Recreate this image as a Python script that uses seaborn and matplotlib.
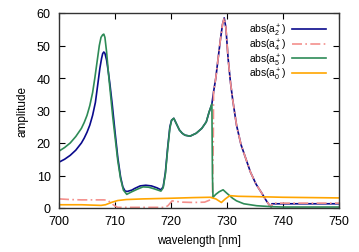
import matplotlib
matplotlib.use("Agg")
import matplotlib.pyplot as plt
import seaborn as sns
import pandas as pd

# abs(a2+)
x_a2 = [700, 701, 702, 703, 704, 704.5, 705, 705.5, 706, 706.5, 707, 707.3, 707.6, 707.8,
        708.0, 708.2, 708.5, 708.8, 709.1, 709.5, 710, 710.5, 711, 711.4, 711.8, 712.2,
        713, 713.5, 714.5, 715.5, 716.5, 717.5, 718.2, 718.6, 719.0, 719.4, 719.8, 720.1,
        720.5, 721, 721.5, 722, 722.5, 723.4, 724.5, 725.5, 726.3, 726.8, 727.3, 727.6,
        728, 728.4, 728.8, 729.2, 729.5, 729.8, 730.2, 730.6, 731, 731.7, 732.5, 733.5,
        734.2, 735.2, 736.2, 737, 737.6, 737.9, 738.0, 744, 750]
y_a2 = [14.1, 15.0, 16.2, 17.8, 20, 21.5, 23.3, 25.5, 28.5, 32.5, 39, 43, 46, 47.5,
        48, 47.6, 45.5, 42, 38, 32, 23.5, 15.5, 9.5, 6.5, 5.2, 5.1,
        5.5, 6, 6.8, 7, 6.8, 6.2, 5.6, 6.5, 11, 18.5, 25, 27,
        27.6, 25.8, 24, 23, 22.4, 22.1, 23, 24.5, 26.5, 29.5, 32, 35.7,
        40, 45.8, 51.5, 56.5, 58.5, 55.5, 46, 39, 33.5, 25.5, 19.5, 14.5,
        11, 7.3, 4.6, 2.3, 0.8, 0.3, 1.3, 1.3, 1.3]

# abs(a4+)
x_a4 = [700, 702, 704, 706, 708, 708.7, 709.3, 710, 710.5, 712, 715, 719, 719.5, 720.2,
        721, 722, 724, 726, 727, 727.4, 727.55,
        727.6, 728, 728.4, 728.8, 729.2, 729.5, 729.8, 730.2, 730.6, 731, 731.7, 732.5,
        733.5, 734.2, 735.2, 736.2, 737, 737.6, 737.9, 738.1, 744, 750]
y_a4 = [2.8, 2.6, 2.5, 2.5, 2.5, 2.4, 1.5, 0.6, 0.2, 0.2, 0.2, 0.2, 0.8, 2.2,
        2.0, 1.8, 1.7, 1.8, 2.5, 3.3, 20,
        35.7, 40, 45.8, 51.5, 56.5, 58.5, 55.5, 46, 39, 33.5, 25.5, 19.5,
        14.5, 11, 7.3, 4.6, 2.3, 0.8, 0.3, 1.5, 1.5, 1.5]

# abs(a5+)
x_a5 = [700, 701, 702, 703, 704, 704.5, 705, 705.5, 706, 706.4, 706.8, 707.2, 707.5,
        707.8, 708.0, 708.2, 708.5, 708.8, 709.2, 709.6, 710, 710.5, 711, 711.5, 712.1,
        713, 714, 715, 716, 717, 718.2, 718.6, 719.0, 719.4, 719.8, 720.1, 720.5, 721,
        721.5, 722, 722.5, 723.4, 724.5, 725.5, 726.3, 726.8, 727.3, 727.4, 727.5, 728,
        728.6, 729.3, 730, 731, 731.7, 733, 735.3, 738, 740, 750]
y_a5 = [17.5, 18.6, 20, 22, 24.5, 26.3, 28.5, 31.5, 35.5, 40, 45, 50, 52.5,
        53.3, 53.5, 52.5, 48, 42, 35, 28, 22, 14.5, 9, 5.5, 4.2,
        5, 5.8, 6.5, 6.4, 5.9, 5.2, 6.2, 10.5, 18, 24.5, 27,
        27.6, 25.8, 24, 23, 22.4, 22.1, 23, 24.5, 26.5, 29.5, 32, 10, 3.3, 4.2,
        5.0, 5.6, 4.5, 3, 2.2, 1.3, 0.7, 0.4, 0.3, 0.3]

# abs(a0+)
x_a0 = [700, 704, 707.5, 708.3, 709.5, 710.5, 712, 715, 720, 724, 727, 728, 729, 729.7,
        730.5, 732, 735, 740, 745, 750]
y_a0 = [1.0, 1.0, 0.8, 1.0, 1.8, 2.3, 2.6, 2.8, 3.0, 3.2, 3.3, 2.8, 1.7, 2.8,
        3.8, 3.6, 3.5, 3.3, 3.2, 3.1]

labels = [r"abs(a$_2^+$)", r"abs(a$_4^+$)", r"abs(a$_5^+$)", r"abs(a$_0^+$)"]
colors = ["#0a0a8c", "#f4908c", "#2e8b57", "#ffa500"]
styles = [(), (6, 2, 1, 2), (), ()]

x_ticks = [700, 710, 720, 730, 740, 750]
y_ticks = [0, 10, 20, 30, 40, 50, 60]

plt.rcParams["font.family"] = ["Liberation Sans", "DejaVu Sans"]
plt.rcParams["mathtext.fontset"] = "custom"
plt.rcParams["mathtext.rm"] = "Liberation Sans"
plt.rcParams["mathtext.it"] = "Liberation Sans"

fig = plt.figure(figsize=(3.59, 2.53), dpi=100)
ax = fig.add_axes([59 / 359, 1 - 209 / 253, 280 / 359, 195 / 253])

series = [(x_a2, y_a2), (x_a4, y_a4), (x_a5, y_a5), (x_a0, y_a0)]
for (xs, ys), lab, col in zip(series, labels, colors):
    df = pd.DataFrame({"x": xs, "y": ys})
    sns.lineplot(data=df, x="x", y="y", sort=False, estimator=None,
                 color=col, linewidth=1.2, label=lab, ax=ax)
for ln, st in zip(ax.get_lines(), styles):
    if st:
        ln.set_dashes(st)

ax.set_xlim(700, 750)
ax.set_ylim(0, 60)
ax.set_xticks(x_ticks)
ax.set_yticks(y_ticks)
ax.tick_params(direction="in", top=True, right=True, length=4, width=0.8,
               labelsize=9)
ax.tick_params(axis="x", pad=5)
ax.tick_params(axis="y", pad=6)
for s in ax.spines.values():
    s.set_linewidth(1.0)
    s.set_color("#333333")
ax.set_xlabel("wavelength [nm]", fontsize=8.3, labelpad=5)
ax.set_ylabel("amplitude", fontsize=8.5, labelpad=6)

leg = ax.legend(loc="upper right", bbox_to_anchor=(0.954, 0.955), frameon=False,
                markerfirst=False, fontsize=7.4, handlelength=3.3,
                labelspacing=-0.15, handletextpad=0.6, borderaxespad=0, borderpad=0)

fig.savefig("out.png", dpi=100)
